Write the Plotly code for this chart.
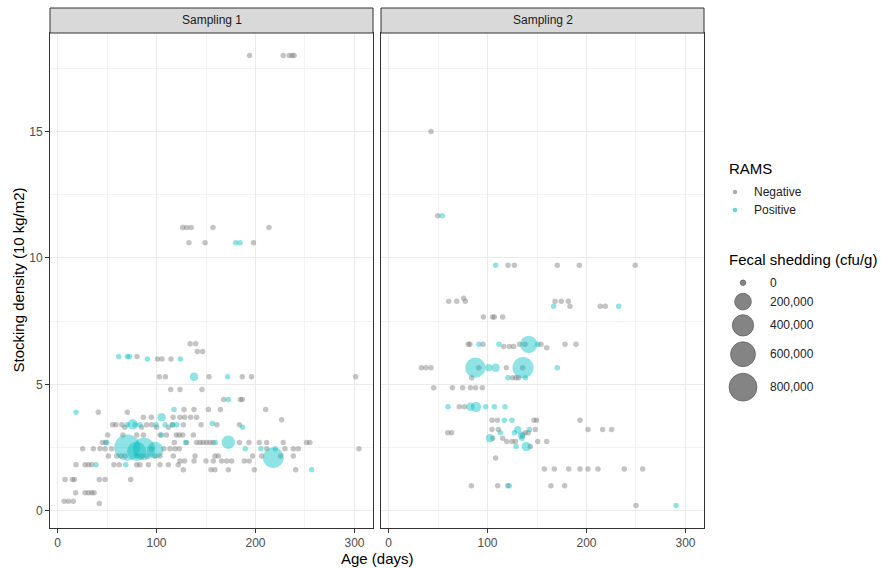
import numpy as np
import plotly.graph_objects as go

W, H = 881, 568

# ---------------- data (age in days, stocking density in 10 kg/m2) ----------------
# Sampling 1, RAMS negative (fecal shedding 0)
s1_negative = [
    (194, 18.0), (228, 18.0), (234, 18.0), (237, 18.0), (239, 18.0),
    (126.5, 11.2), (130.5, 11.2), (135, 11.2), (157, 11.2), (213.6, 11.2),
    (132.8, 10.6), (149, 10.6), (198, 10.6),
    (134, 6.6), (139.6, 6.6), (141.2, 6.3), (146.6, 6.3),
    (80.3, 6.1), (101, 6.0), (105.5, 6.0), (114.6, 6.0),
    (102.9, 5.3), (109, 5.3), (153, 5.3), (186.6, 5.3), (196, 5.3), (301.2, 5.3),
    (114.3, 4.8), (123.7, 4.8), (145.9, 4.8),
    (167.8, 4.4), (184.7, 4.4), (186.6, 4.4),
    (127.8, 4.0), (137.9, 4.0), (152.4, 4.0), (164.5, 4.0), (210.3, 4.0),
    (41.2, 3.9), (70.5, 3.9),
    (86.7, 3.7), (94.8, 3.7), (116.7, 3.7), (123.7, 3.7), (128.4, 3.7), (134.5, 3.7), (140.5, 3.7),
    (226.4, 3.6),
    (55.7, 3.4), (59, 3.4), (65, 3.4), (90, 3.4), (95, 3.4), (116, 3.4), (127.1, 3.4),
    (145, 3.4), (161, 3.4), (183.7, 3.4),
    (68, 3.3), (85, 3.3), (100, 3.3), (112, 3.3),
    (50.7, 3.0), (66, 3.0), (80, 3.0), (86.7, 3.0), (103.5, 3.0), (110, 3.0), (120, 3.0),
    (123, 3.0), (126.5, 3.0), (137.2, 3.0),
    (45.3, 2.7), (48.7, 2.7), (118, 2.7), (130.5, 2.7), (140.5, 2.7), (144, 2.7), (147, 2.7),
    (150.5, 2.7), (154, 2.7), (157, 2.7), (183.7, 2.7), (193.4, 2.7), (203.8, 2.7),
    (211.3, 2.7), (228, 2.7), (251.6, 2.7), (255, 2.7),
    (25.4, 2.45), (36.2, 2.45), (42.9, 2.45), (48, 2.45), (54.7, 2.45), (95, 2.45),
    (107.5, 2.45), (113.6, 2.45), (118.7, 2.45), (123, 2.45), (211.3, 2.45), (229.8, 2.45),
    (238.2, 2.45), (243.3, 2.45), (304.5, 2.45),
    (51.4, 2.17), (59.8, 2.17), (64.2, 2.17), (68.2, 2.17), (80, 2.17), (85, 2.17), (90, 2.17),
    (98.5, 2.17), (103.5, 2.17), (117, 2.17), (138.9, 2.17), (159, 2.17), (162.4, 2.17),
    (197.1, 2.17), (206.2, 2.17), (225.4, 2.17), (238.2, 2.17),
    (123.7, 1.97), (128.4, 1.97), (137.9, 1.97), (150, 1.97), (157.4, 1.97), (165.8, 1.97),
    (170.9, 1.97), (175.9, 1.97), (188.7, 1.97), (193.7, 1.97),
    (18.7, 1.82), (27.8, 1.82), (31.2, 1.82), (34.5, 1.82), (57, 1.82), (62.4, 1.82),
    (80, 1.82), (83.3, 1.82), (91.8, 1.82), (103.5, 1.82), (112, 1.82), (122, 1.82),
    (127.1, 1.62), (155, 1.62), (159, 1.62), (172.5, 1.62), (198.8, 1.62), (240.6, 1.62),
    (7.6, 1.24), (15, 1.24), (17, 1.24), (42.2, 1.24), (48, 1.24), (73.9, 1.24),
    (18.3, 0.71), (27.8, 0.71), (31.2, 0.71), (34.5, 0.71), (36.9, 0.71),
    (6.6, 0.38), (11, 0.38), (16, 0.38), (42.2, 0.29),
]

# Sampling 1, RAMS positive: (age, density, fecal shedding cfu/g)
s1_positive = [
    (180, 10.6, 0), (184.3, 10.6, 0),
    (61.8, 6.1, 0), (70.5, 6.1, 0), (72.6, 6.1, 0), (90.7, 6.0, 0), (124, 6.0, 0),
    (137.9, 5.3, 15000), (171.9, 5.3, 0),
    (172.5, 4.4, 0),
    (18.7, 3.9, 0), (117.7, 4.0, 0),
    (105.2, 3.7, 14000),
    (75.9, 3.42, 38000), (70.5, 3.4, 0), (78.3, 3.4, 0), (83.3, 3.4, 0), (99.5, 3.4, 0),
    (108.6, 3.4, 0), (116.3, 3.4, 0), (120.4, 3.4, 0), (156.4, 3.45, 0), (187, 3.3, 0),
    (105.2, 3.0, 0),
    (49.7, 2.7, 0), (129.4, 2.7, 0), (159.4, 2.7, 0), (172.5, 2.71, 98000),
    (70.5, 2.5, 680000), (87.4, 2.45, 445000), (98.5, 2.4, 200000), (80, 2.35, 300000),
    (189.7, 2.45, 0), (205.5, 2.45, 0), (220, 2.45, 0),
    (218, 2.1, 380000),
    (38.9, 1.82, 0), (68.9, 1.82, 0),
    (256.7, 1.62, 0),
]

# Sampling 2, RAMS negative
s2_negative = [
    (42.9, 15.0), (49.7, 11.66),
    (120.7, 9.71), (127.1, 9.71), (170.5, 9.71), (192.7, 9.71), (249.2, 9.71),
    (60.8, 8.28), (68.9, 8.28), (77.6, 8.28), (75.9, 8.4), (168.2, 8.28), (174.5, 8.28), (181.6, 8.28),
    (183.3, 8.09), (213.9, 8.09), (219, 8.09),
    (95.8, 7.66), (105.2, 7.66), (106.9, 7.66), (115.3, 7.66),
    (80.6, 6.58), (82.3, 6.58), (95.5, 6.58), (116.3, 6.5), (122, 6.5), (126.4, 6.5),
    (132.5, 6.58), (137.9, 6.58), (154, 6.58), (159.8, 6.45), (178.3, 6.58), (189.4, 6.58),
    (33.2, 5.66), (37.9, 5.66), (42.9, 5.66), (91.1, 5.66), (119, 5.66), (135.5, 5.66),
    (84, 5.26), (125.4, 5.26), (128.8, 5.26), (131.5, 5.26),
    (45.6, 4.86), (64.5, 4.86), (74.9, 4.86), (82.7, 4.86), (88, 4.86), (94.8, 4.86),
    (71.5, 4.11), (76.6, 4.11),
    (104.5, 3.58), (109.9, 3.58), (146.9, 3.58), (149.6, 3.58), (193.4, 3.58),
    (104.5, 3.21), (110.9, 3.21), (148.3, 3.21), (201.5, 3.21), (216.3, 3.21), (225.4, 3.21),
    (59.8, 3.09), (63.8, 3.09), (138.2, 3.09), (141.2, 3.09),
    (135.2, 2.99), (105.2, 2.87), (115.3, 2.87),
    (119.4, 2.74), (124.7, 2.74), (128.1, 2.74), (150.7, 2.74), (159.8, 2.74),
    (143.3, 2.54), (108.2, 2.09),
    (157.4, 1.65), (167.5, 1.65), (182, 1.65), (193.4, 1.65), (201.5, 1.65), (211.6, 1.65),
    (238.2, 1.65), (256.7, 1.65),
    (83.7, 0.99), (110.3, 0.99), (120.4, 0.99), (164.1, 0.99), (177.9, 0.99),
    (250, 0.21),
]

# Sampling 2, RAMS positive: (age, density, fecal shedding cfu/g)
s2_positive = [
    (54.3, 11.66, 0), (108.2, 9.71, 0),
    (166.8, 8.09, 0), (232.5, 8.09, 0),
    (91.4, 6.58, 0), (111.6, 6.58, 0), (141.6, 6.58, 221000), (150.7, 6.58, 0),
    (87.7, 5.66, 346000), (101.2, 5.66, 6000), (108.2, 5.66, 14000), (135.9, 5.66, 394000),
    (170.5, 5.66, 0),
    (120.7, 5.26, 0), (138.2, 5.26, 0),
    (60.1, 4.11, 0), (82.7, 4.11, 14000), (88.4, 4.11, 38000), (98.1, 4.11, 0),
    (106.9, 4.11, 0), (117.7, 4.11, 0),
    (117, 3.58, 0), (124.7, 3.58, 0),
    (130.5, 3.21, 6000), (142.3, 3.21, 0),
    (112.9, 3.09, 0), (127.1, 3.09, 0),
    (134.5, 2.99, 6000), (102.5, 2.87, 14000), (134.8, 2.87, 0),
    (128.8, 2.54, 0), (139.2, 2.54, 25000),
    (122, 0.99, 0), (290.4, 0.21, 0),
]

panel_titles = ["Sampling 1", "Sampling 2"]
x_ticks = [0, 100, 200, 300]
y_ticks = [0, 5, 10, 15]
rams_labels = ["Negative", "Positive"]
size_legend_values = [0, 200000, 400000, 600000, 800000]
size_legend_labels = ["0", "200,000", "400,000", "600,000", "800,000"]

# ---------------- styling ----------------
FONT = "Liberation Sans, Arial, sans-serif"
NEG_COLOR = "rgba(115,115,115,0.6)"
POS_COLOR = "rgba(0,191,196,0.62)"


def size_of(v):
    return 5.5 + 0.025 * np.sqrt(np.asarray(v, dtype=float))


def px_x(p):
    return p / W


def px_y(p):
    return 1 - p / H


fig = go.Figure()

panels = [(s1_negative, s1_positive, "x", "y"), (s2_negative, s2_positive, "x2", "y2")]
for neg, pos, xa, ya in panels:
    na = [a for a, d in neg]
    nd = [d for a, d in neg]
    fig.add_trace(go.Scatter(
        x=na, y=nd, mode="markers", xaxis=xa, yaxis=ya, showlegend=False,
        marker=dict(color=NEG_COLOR, size=size_of(np.zeros(len(na))), line=dict(width=0)),
        hoverinfo="skip"))
    pa = [a for a, d, f in pos]
    pd_ = [d for a, d, f in pos]
    pf = [f for a, d, f in pos]
    fig.add_trace(go.Scatter(
        x=pa, y=pd_, mode="markers", xaxis=xa, yaxis=ya, showlegend=False,
        marker=dict(color=POS_COLOR, size=size_of(pf), line=dict(width=0)),
        hoverinfo="skip"))

plot_top, plot_bottom = 33, 528
p1_left, p1_right = 50, 373
p2_left, p2_right = 381, 704

common_x = dict(
    range=[-7.6, 318.7], tickvals=x_ticks, ticks="outside", ticklen=4, tickwidth=1,
    tickcolor="#333333", showline=True, mirror=True, linecolor="#333333", linewidth=1,
    showgrid=True, gridcolor="#EBEBEB", gridwidth=1, zeroline=False,
    minor=dict(dtick=50, tick0=0, showgrid=True, gridcolor="#F3F3F3", gridwidth=0.6, ticks=""),
    tickfont=dict(family=FONT, size=12, color="#4D4D4D"), fixedrange=True,
)
common_y = dict(
    range=[-0.68, 18.89], tickvals=y_ticks, ticks="outside", ticklen=4, tickwidth=1,
    tickcolor="#333333", showline=True, mirror=True, linecolor="#333333", linewidth=1,
    showgrid=True, gridcolor="#EBEBEB", gridwidth=1, zeroline=False,
    minor=dict(dtick=2.5, tick0=0, showgrid=True, gridcolor="#F3F3F3", gridwidth=0.6, ticks=""),
    tickfont=dict(family=FONT, size=12, color="#4D4D4D"), fixedrange=True,
    domain=[px_y(plot_bottom), px_y(plot_top)],
)

fig.update_layout(
    width=W, height=H, margin=dict(l=0, r=0, t=0, b=0),
    paper_bgcolor="white", plot_bgcolor="white", showlegend=False,
    font=dict(family=FONT),
    xaxis=dict(common_x, domain=[px_x(p1_left), px_x(p1_right)], anchor="y"),
    xaxis2=dict(common_x, domain=[px_x(p2_left), px_x(p2_right)], anchor="y2"),
    yaxis=dict(common_y, anchor="x"),
    yaxis2=dict(common_y, anchor="x2", showticklabels=False, ticks=""),
)

shapes = []
annotations = []

# facet strips
strip_top = 8
for (l, r), title in zip([(p1_left, p1_right), (p2_left, p2_right)], panel_titles):
    shapes.append(dict(type="rect", xref="paper", yref="paper",
                       x0=px_x(l), x1=px_x(r), y0=px_y(plot_top), y1=px_y(strip_top),
                       fillcolor="#D9D9D9", line=dict(color="#333333", width=1)))
    annotations.append(dict(text=title, xref="paper", yref="paper",
                            x=px_x((l + r) / 2), y=px_y((plot_top + strip_top) / 2),
                            showarrow=False, xanchor="center", yanchor="middle",
                            font=dict(family=FONT, size=12, color="#1A1A1A")))

# axis titles
annotations.append(dict(text="Age (days)", xref="paper", yref="paper",
                        x=px_x((p1_left + p2_right) / 2), y=px_y(558), showarrow=False,
                        xanchor="center", yanchor="middle",
                        font=dict(family=FONT, size=15, color="black")))
annotations.append(dict(text="Stocking density (10 kg/m2)", xref="paper", yref="paper",
                        x=px_x(18), y=px_y((plot_top + plot_bottom) / 2), showarrow=False,
                        textangle=-90, xanchor="center", yanchor="middle",
                        font=dict(family=FONT, size=15, color="black")))

# legend: RAMS
leg_left = 727
annotations.append(dict(text="RAMS", xref="paper", yref="paper", x=px_x(leg_left), y=px_y(168),
                        showarrow=False, xanchor="left", yanchor="middle",
                        font=dict(family=FONT, size=15, color="black")))
for i, (lab, col) in enumerate(zip(rams_labels, [NEG_COLOR, POS_COLOR])):
    cy = 192 + i * 18
    d = 4.5
    shapes.append(dict(type="circle", xref="paper", yref="paper", xsizemode="pixel",
                       ysizemode="pixel", xanchor=px_x(735), yanchor=px_y(cy),
                       x0=-d / 2, x1=d / 2, y0=-d / 2, y1=d / 2,
                       fillcolor=col, line=dict(width=0)))
    annotations.append(dict(text=lab, xref="paper", yref="paper", x=px_x(752), y=px_y(cy),
                            showarrow=False, xanchor="left", yanchor="middle",
                            font=dict(family=FONT, size=12, color="#222222")))

# legend: Fecal shedding size
annotations.append(dict(text="Fecal shedding (cfu/g)", xref="paper", yref="paper",
                        x=px_x(leg_left), y=px_y(259), showarrow=False, xanchor="left",
                        yanchor="middle", font=dict(family=FONT, size=15, color="black")))
cy = 274.2
for v, lab in zip(size_legend_values, size_legend_labels):
    d = float(size_of(v))
    key_h = max(17.0, d * 1.25)
    cy_c = cy + key_h / 2
    shapes.append(dict(type="circle", xref="paper", yref="paper", xsizemode="pixel",
                       ysizemode="pixel", xanchor=px_x(743), yanchor=px_y(cy_c),
                       x0=-d / 2, x1=d / 2, y0=-d / 2, y1=d / 2,
                       fillcolor="rgba(110,110,110,0.85)",
                       line=dict(color="rgba(90,90,90,0.9)", width=0.8)))
    annotations.append(dict(text=lab, xref="paper", yref="paper", x=px_x(768), y=px_y(cy_c),
                            showarrow=False, xanchor="left", yanchor="middle",
                            font=dict(family=FONT, size=12, color="#222222")))
    cy += key_h

fig.update_layout(shapes=shapes, annotations=annotations)

fig.write_html("out.html")
